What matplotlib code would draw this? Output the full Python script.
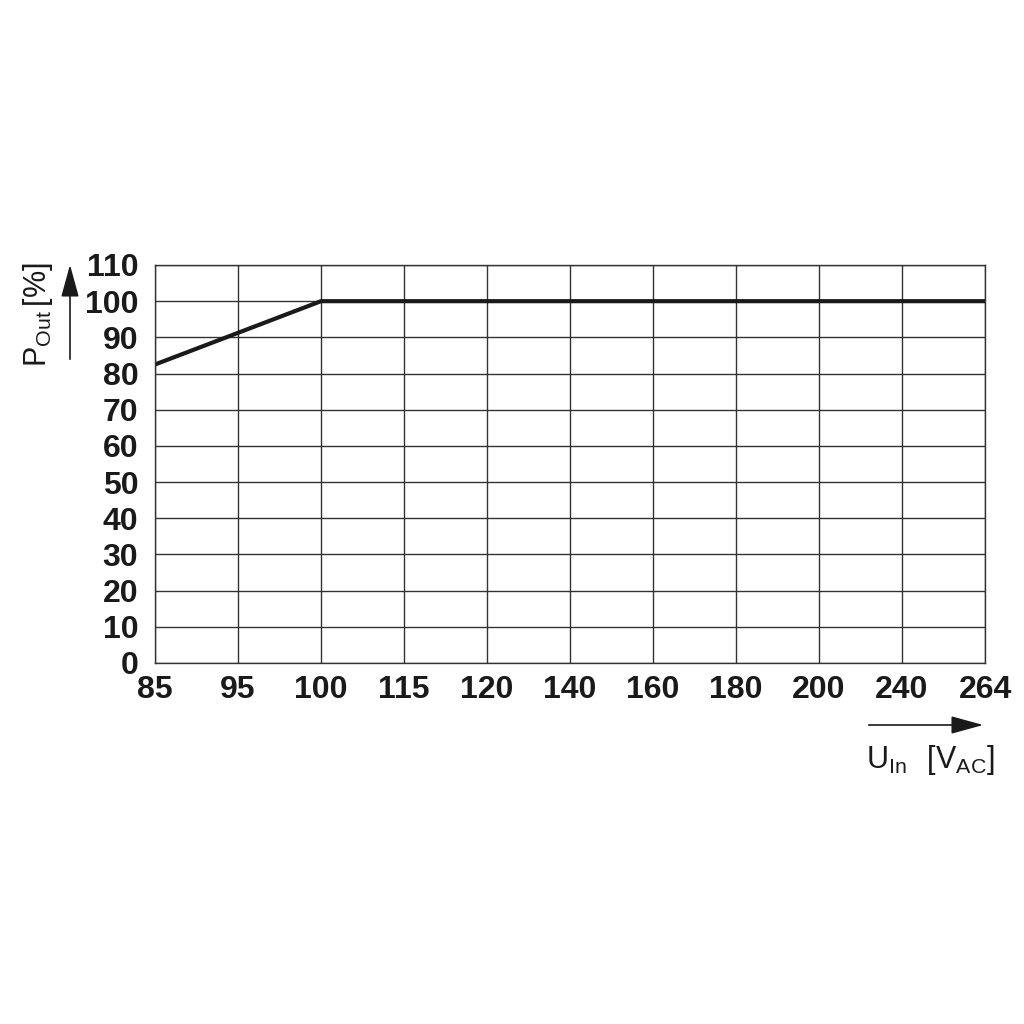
import matplotlib.pyplot as plt

plt.rcParams['font.family'] = 'Liberation Sans'
plt.rcParams['mathtext.fontset'] = 'custom'
plt.rcParams['mathtext.rm'] = 'Liberation Sans'

# data
x_labels = ['85', '95', '100', '115', '120', '140', '160', '180', '200', '240', '264']
y_ticks = [0, 10, 20, 30, 40, 50, 60, 70, 80, 90, 100, 110]
curve_x = [0, 2, 10]          # positions on the category axis (85, 100, 264 V)
curve_y = [82.5, 100, 100]    # output power in %

fig = plt.figure(figsize=(10.24, 10.24), dpi=100)
ax = fig.add_axes([155/1024, 1-663/1024, 830/1024, 398/1024])

ax.plot(curve_x, curve_y, color='#1a1a1a', lw=3.0, solid_capstyle='butt')

ax.set_xlim(0, len(x_labels) - 1)
ax.set_ylim(0, 110)
ax.set_xticks(range(len(x_labels)))
ax.set_xticklabels(x_labels)
ax.set_yticks(y_ticks)
ax.grid(True, color='#333333', lw=1.0)
ax.set_axisbelow(True)
for s in ax.spines.values():
    s.set_color('#333333')
    s.set_linewidth(1.0)
ax.tick_params(length=0, labelsize=23)
ax.tick_params(axis='x', pad=9)
ax.tick_params(axis='y', pad=12)
for lab in ax.get_xticklabels() + ax.get_yticklabels():
    lab.set_fontweight('bold')
    lab.set_color('#1a1a1a')

# axis labels with arrows
fig.text(38/1024, 1-315/1024, r'$\mathrm{P_{Out}\,[\%]}$', rotation=90,
         ha='center', va='center', fontsize=22, color='#1a1a1a')
fig.text(930/1024, 1-760/1024, r'$\mathrm{U_{In}\ \ [V_{AC}]}$',
         ha='center', va='center', fontsize=22, color='#1a1a1a')

ax.annotate('', xy=(70/1024, 1-262/1024), xytext=(70/1024, 1-362/1024),
            xycoords='figure fraction', textcoords='figure fraction',
            arrowprops=dict(arrowstyle='-|>,head_length=2.0,head_width=0.55',
                            color='#1a1a1a', lw=1.2))
ax.annotate('', xy=(986/1024, 1-725/1024), xytext=(866/1024, 1-725/1024),
            xycoords='figure fraction', textcoords='figure fraction',
            arrowprops=dict(arrowstyle='-|>,head_length=2.0,head_width=0.55',
                            color='#1a1a1a', lw=1.2))

plt.savefig('out.png', dpi=100, facecolor='white')
